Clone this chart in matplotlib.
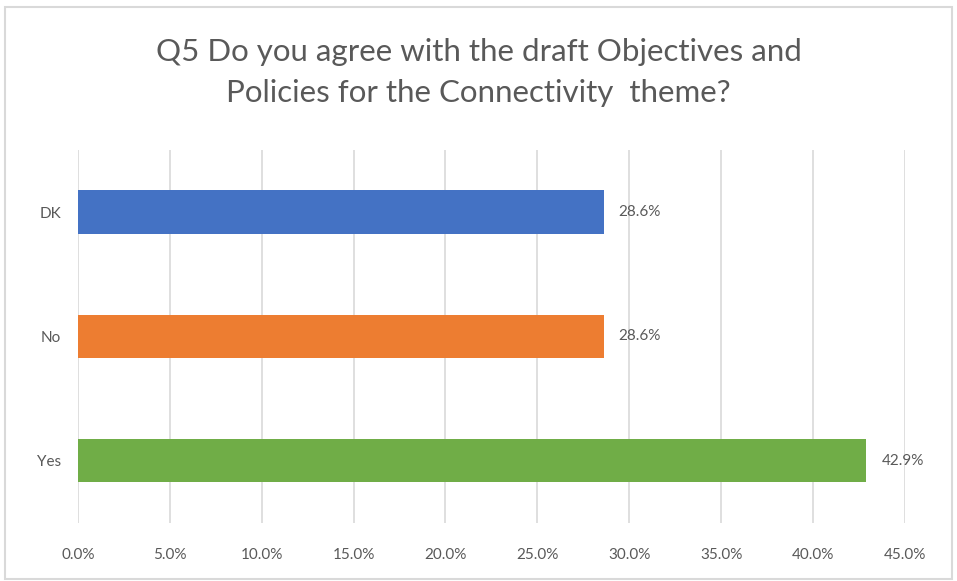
import matplotlib.pyplot as plt
from matplotlib.patches import Rectangle
from matplotlib.ticker import PercentFormatter

# data (bottom to top)
categories = ["Yes", "No", "DK"]
values = [42.9, 28.6, 28.6]
colors = ["#70AD47", "#ED7D31", "#4472C4"]
ticks = [0, 5, 10, 15, 20, 25, 30, 35, 40, 45]

plt.rcParams['font.family'] = ['Lato', 'DejaVu Sans']
txt = "#595959"

fig = plt.figure(figsize=(9.57, 5.81), dpi=100)
ax = fig.add_axes([0.0815, 0.100, 0.864, 0.642])

ax.barh(categories, values, height=0.35, color=colors, zorder=3)
for i, v in enumerate(values):
    ax.annotate(f"{v:.1f}%", (v, i), xytext=(11, 0), textcoords="offset points",
                va="center", ha="left", fontsize=11, color=txt)

ax.set_xlim(0, 45)
ax.set_ylim(-0.5, 2.5)
ax.set_xticks(ticks)
ax.xaxis.set_major_formatter(PercentFormatter(decimals=1))
ax.grid(axis="x", color="#D9D9D9", linewidth=1.2, zorder=0)
for s in ax.spines.values():
    s.set_visible(False)
ax.tick_params(length=0, labelsize=11, colors=txt)
ax.tick_params(axis="x", pad=18)
ax.tick_params(axis="y", pad=12)

fig.text(0.5, 0.875, "Q5 Do you agree with the draft Objectives and\nPolicies for the Connectivity  theme?",
         ha="center", va="center", fontsize=22.5, color=txt, linespacing=1.55)

fig.patches.append(Rectangle((0.005, 0.003), 0.99, 0.985, transform=fig.transFigure,
                             fill=False, edgecolor="#D9D9D9", linewidth=1.5))

fig.savefig("out.png", dpi=100)
